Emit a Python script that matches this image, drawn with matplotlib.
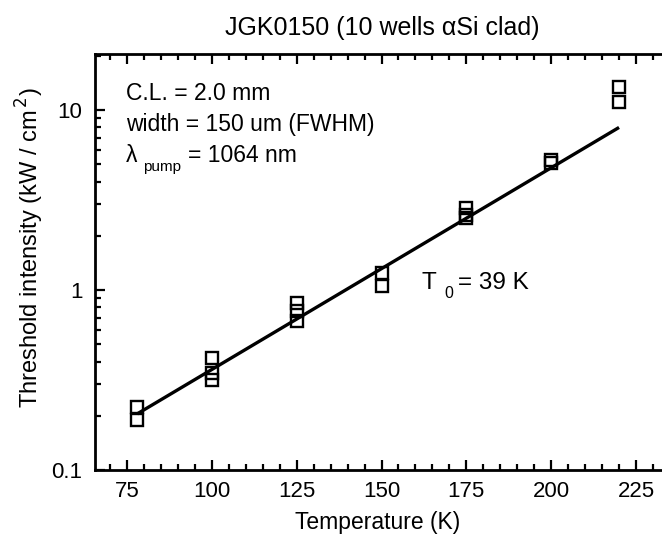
import matplotlib
matplotlib.use("Agg")
import matplotlib.pyplot as plt
from matplotlib.ticker import FixedLocator, LogLocator, NullFormatter, FixedFormatter

plt.rcParams['font.family'] = ['Liberation Sans', 'DejaVu Sans']

# Data
temp_K = [78, 78, 100, 100, 100, 125, 125, 125, 150, 150,
          175, 175, 175, 200, 200, 220, 220]
threshold = [0.225, 0.19, 0.42, 0.345, 0.315, 0.85, 0.76, 0.67, 1.24, 1.05,
             2.85, 2.62, 2.5, 5.25, 5.1, 13.4, 11.1]
fit_T = [78, 220]
fit_I = [0.205, 8.0]
xticks = [75, 100, 125, 150, 175, 200, 225]
yticks = [0.1, 1, 10]
ytick_labels = ["0.1", "1", "10"]

W, H = 662, 543
fig = plt.figure(figsize=(W / 100, H / 100), dpi=100)

def fx(px):
    return px / W

def fy(py):
    return 1 - py / H

left, right, top, bottom = 95, 662, 54, 470
ax = fig.add_axes([fx(left), fy(bottom), fx(right) - fx(left), fy(top) - fy(bottom)])

pxK = (636 - 127) / 150.0
ax.set_xlim(75 - (127 - left) / pxK, 75 + (right - 127) / pxK)
ax.set_yscale('log')
decade = 180.0
ax.set_ylim(0.1, 10 ** (1 + (110 - top) / decade))

ax.plot(fit_T, fit_I, color='black', lw=2.4, solid_capstyle='butt')
ax.plot(temp_K, threshold, linestyle='none', marker='s', markersize=8.5,
        markerfacecolor='none', markeredgecolor='black', markeredgewidth=1.7)

ax.xaxis.set_major_locator(FixedLocator(xticks))
ax.xaxis.set_minor_locator(FixedLocator(list(range(65, 235, 5))))
ax.yaxis.set_major_locator(FixedLocator(yticks))
ax.yaxis.set_major_formatter(FixedFormatter(ytick_labels))
ax.yaxis.set_minor_locator(LogLocator(base=10, subs=range(2, 10)))
ax.yaxis.set_minor_formatter(NullFormatter())

ax.tick_params(axis='both', which='both', direction='in', top=True, right=False,
               width=1.6, labelsize=16, colors='black')
ax.tick_params(axis='both', which='major', length=7)
ax.tick_params(axis='both', which='minor', length=4.5)
ax.tick_params(axis='x', which='major', pad=8)
ax.tick_params(axis='y', which='major', pad=9)

for s in ['left', 'bottom', 'top']:
    ax.spines[s].set_linewidth(2.0)
ax.spines['right'].set_visible(False)

fs = 16.5
fig.text(fx(382), fy(28), "JGK0150 (10 wells \u03b1Si clad)", ha='center', va='center', fontsize=18)
fig.text(fx(30), fy(248), "Threshold intensity (kW / cm$^{\\,2}$)", ha='center', va='center',
         rotation=90, fontsize=17)
fig.text(fx(378), fy(522), "Temperature (K)", ha='center', va='center', fontsize=16.5)

fig.text(fx(126), fy(93), "C.L. = 2.0 mm", ha='left', va='center', fontsize=fs)
fig.text(fx(126), fy(125), "width = 150 um (FWHM)", ha='left', va='center', fontsize=fs)
fig.text(fx(126), fy(156), "\u03bb", ha='left', va='center', fontsize=fs)
fig.text(fx(143), fy(167), "pump", ha='left', va='center', fontsize=11)
fig.text(fx(188), fy(156), "= 1064 nm", ha='left', va='center', fontsize=fs)

fig.text(fx(422), fy(283), "T", ha='left', va='center', fontsize=17.5)
fig.text(fx(444), fy(294), "0", ha='left', va='center', fontsize=11.5)
fig.text(fx(458), fy(283), "= 39 K", ha='left', va='center', fontsize=17.5)

fig.savefig("out.png", dpi=100)
